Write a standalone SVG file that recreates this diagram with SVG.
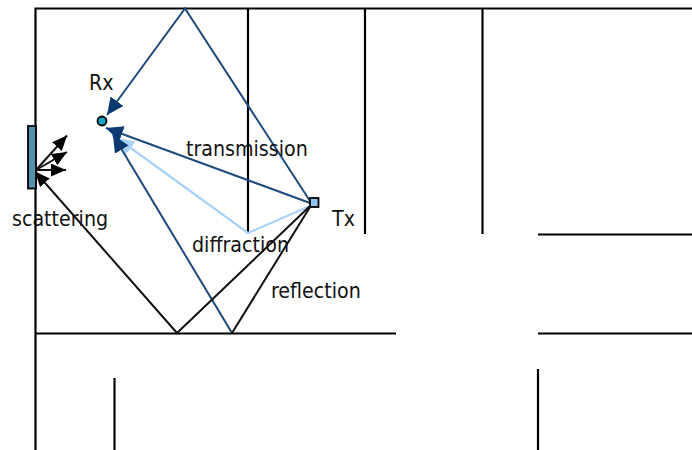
<svg xmlns="http://www.w3.org/2000/svg" width="692" height="450" viewBox="0 0 692 450">
<style>
.w{stroke:#000;stroke-width:2.200;fill:none}
.b{stroke:#111;stroke-width:2;fill:none}
.n{stroke:#1c4a7c;stroke-width:2;fill:none}
.l{stroke:#a8d2fa;stroke-width:2.200;fill:none}
text{font-family:"DejaVu Sans",Verdana,sans-serif;font-size:21.200px;fill:#111;font-stretch:condensed}
</style>
<defs>
<marker id="mk" markerUnits="userSpaceOnUse" markerWidth="18" markerHeight="18" refX="15" refY="6.500" orient="auto"><path d="M0 0L15 6.500L0 13Z" fill="#000"/></marker>
<marker id="mn" markerUnits="userSpaceOnUse" markerWidth="18" markerHeight="18" refX="17" refY="8" orient="auto"><path d="M0 0L17 8L0 16Z" fill="#0c3a70"/></marker>
<marker id="ml" markerUnits="userSpaceOnUse" markerWidth="18" markerHeight="18" refX="17" refY="8" orient="auto"><path d="M0 0L17 8L0 16Z" fill="#a8d2fa"/></marker>
</defs>
<rect width="692" height="450" fill="#fff"/>
<g id="walls">
<path class="w" d="M35.500 450V8.500H692M248 8.500V233M365 8.500V234M482.500 8.500V234M538 234.500H692M35.500 333.500H396M538 333.500H692M114.500 378V450M538 369V450"/>
</g>
<g id="connectors">
<path class="l" d="M310 206L248 233L117 138" marker-end="url(#ml)"/>
<path class="n" d="M310 201L185 8.500L107 115" marker-end="url(#mn)"/>
<path class="n" d="M310 203L106 128" marker-end="url(#mn)"/>
<path class="n" d="M232 333L113 135" marker-end="url(#mn)"/>
<path class="b" d="M310 207L232 333"/>
<path class="b" d="M310 206L177 333L35 171.500" marker-end="url(#mk)"/>
<path class="b" d="M36 170L67 135.500" marker-end="url(#mk)"/>
<path class="b" d="M36 170L67 152" marker-end="url(#mk)"/>
<path class="b" d="M36 170L66 170" marker-end="url(#mk)"/>
</g>
<g id="rx"><circle cx="102" cy="121" r="4.500" fill="#10a5c8" stroke="#000" stroke-width="1.800"/><text x="89" y="90">Rx</text></g>
<g id="tx"><rect x="310" y="198" width="8.500" height="9" fill="#8cc4f0" stroke="#000" stroke-width="1.800"/><text x="332" y="226">Tx</text></g>
<g id="scatterer"><rect x="28" y="126" width="8" height="62.500" fill="#5290ab" stroke="#000" stroke-width="1.800"/><text x="12" y="226">scattering</text></g>
<g id="labels">
<text x="186" y="156">transmission</text>
<text x="192" y="252">diffraction</text>
<text x="271" y="298">reflection</text>
</g>
</svg>
